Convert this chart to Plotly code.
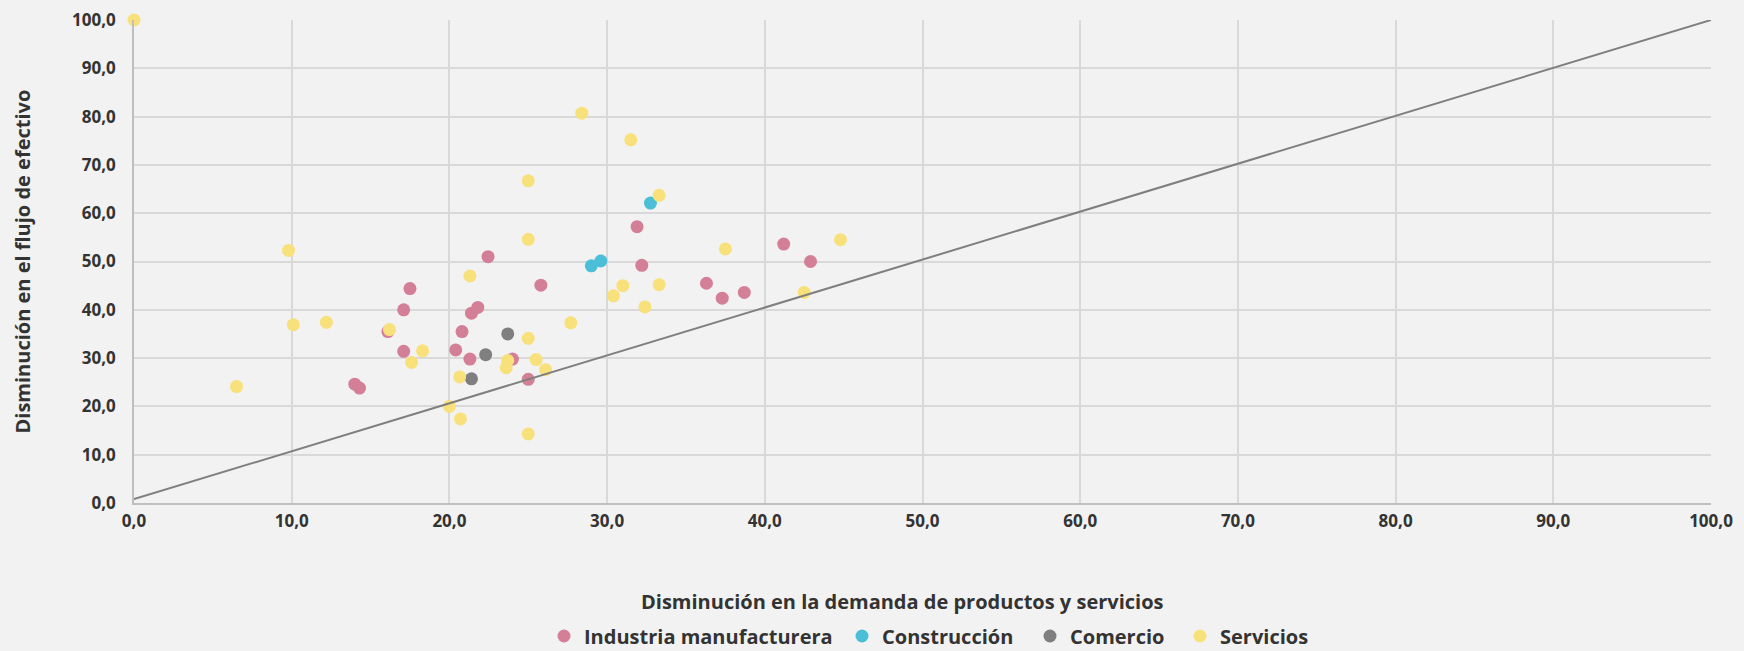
import plotly.graph_objects as go

# values
ind_x = [17.5, 17.1, 16.1, 17.1, 14.0, 14.3, 20.8, 20.4, 21.3, 21.4, 21.8, 22.45,
         24.0, 25.0, 25.8, 31.9, 32.2, 36.3, 37.3, 38.7, 41.2, 42.9]
ind_y = [44.4, 40.0, 35.5, 31.4, 24.6, 23.8, 35.5, 31.7, 29.8, 39.3, 40.5, 51.0,
         29.8, 25.6, 45.1, 57.2, 49.2, 45.5, 42.4, 43.6, 53.6, 50.0]

con_x = [29.0, 29.6, 32.75]
con_y = [49.1, 50.1, 62.1]

com_x = [21.4, 22.3, 23.7]
com_y = [25.7, 30.7, 35.0]

ser_x = [0.0, 6.5, 9.8, 10.1, 12.2, 16.2, 17.6, 18.3, 20.0, 20.7, 20.65, 21.3,
         23.6, 23.7, 25.0, 25.0, 25.0, 25.0, 25.5, 26.1, 27.7, 28.4, 30.4, 31.0,
         31.5, 32.4, 33.3, 33.3, 37.5, 42.5, 44.8]
ser_y = [100.0, 24.1, 52.3, 36.9, 37.4, 35.9, 29.1, 31.5, 20.0, 17.4, 26.1, 47.0,
         28.0, 29.5, 66.7, 54.6, 34.1, 14.3, 29.7, 27.6, 37.3, 80.7, 42.9, 45.0,
         75.2, 40.6, 63.7, 45.2, 52.6, 43.6, 54.5]

diag_x = [0, 100]
diag_y = [0.8, 100]

ticks = [0, 10, 20, 30, 40, 50, 60, 70, 80, 90, 100]

series = [
    ("Industria manufacturera", ind_x, ind_y, "#D37F97"),
    ("Construcción", con_x, con_y, "#4BBFD7"),
    ("Comercio", com_x, com_y, "#7F7F7F"),
    ("Servicios", ser_x, ser_y, "#F8E07A"),
]

font_fam = "Open Sans, Noto Sans, sans-serif"
txt_col = "#333333"

L, R, T, B = 134, 33, 20, 148
W, H = 1744, 651
pw, ph = W - L - R, H - T - B

# one legend per entry so each can sit where it is in the original
leg_ids = ["legend", "legend2", "legend3", "legend4"]
leg_left = [544, 842, 1030, 1180]
leg_y = -(636 - (H - B)) / ph

fig = go.Figure()
for (name, xs, ys, col), lid in zip(series, leg_ids):
    fig.add_trace(go.Scatter(x=xs, y=ys, mode="markers", name=name, legend=lid,
                             marker=dict(size=13, color=col, line=dict(width=0)),
                             cliponaxis=False))

# reference line, drawn above the points like in the original
fig.add_trace(go.Scatter(x=diag_x, y=diag_y, mode="lines", showlegend=False,
                         line=dict(color="#7F7F7F", width=2), hoverinfo="skip"))

axis_common = dict(range=[0, 100], tickvals=ticks, tickformat=".1f",
                   showgrid=True, gridcolor="#D9D9D9", gridwidth=1.5,
                   zeroline=False, showline=True, linecolor="#BFBFBF", linewidth=1.5,
                   tickfont=dict(family=font_fam, size=17, color=txt_col, weight="bold"),
                   automargin=False, fixedrange=True)

legends = {}
for lid, left in zip(leg_ids, leg_left):
    legends[lid] = dict(orientation="h", x=(left - L) / pw, xanchor="left",
                        y=leg_y, yanchor="middle", itemwidth=30,
                        font=dict(family=font_fam, size=20, color=txt_col, weight="bold"),
                        bgcolor="rgba(0,0,0,0)")

fig.update_layout(
    width=W, height=H,
    paper_bgcolor="#F2F2F2", plot_bgcolor="#F2F2F2",
    separators=",.",
    margin=dict(l=L, r=R, t=T, b=B, autoexpand=False),
    xaxis=dict(**axis_common, ticklabelstandoff=2),
    yaxis=dict(**axis_common, ticklabelstandoff=13),
    annotations=[
        dict(text="Disminución en la demanda de productos y servicios",
             xref="paper", yref="paper", x=(902 - L) / pw, y=-(601 - (H - B)) / ph,
             xanchor="center", yanchor="middle", showarrow=False,
             font=dict(family=font_fam, size=20, color=txt_col, weight="bold")),
        dict(text="Disminución en el flujo de efectivo",
             xref="paper", yref="paper", x=-(L - 22) / pw, y=0.5, textangle=-90,
             xanchor="center", yanchor="middle", showarrow=False,
             font=dict(family=font_fam, size=20, color=txt_col, weight="bold")),
    ],
    **legends,
)

# drop the page's default body margin so the figure fills the window
fig.write_html("out.html", config={"displayModeBar": False},
               post_script="document.body.style.margin='0';"
                           "document.body.style.background='#F2F2F2';")
